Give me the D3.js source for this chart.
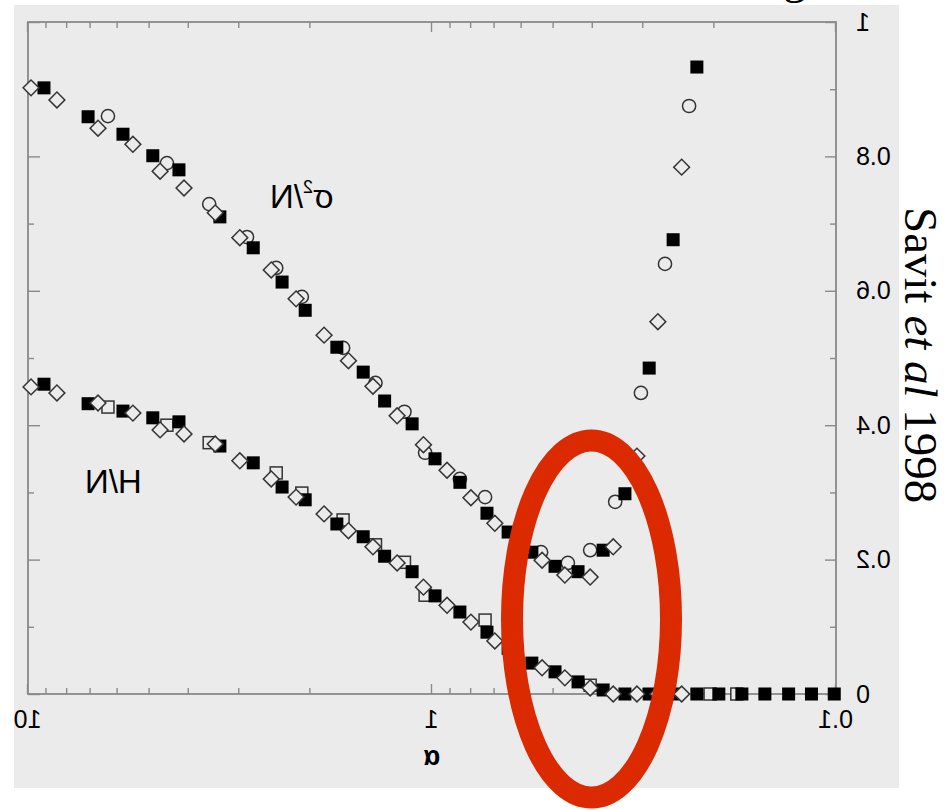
<!DOCTYPE html>
<html>
<head>
<meta charset="utf-8">
<script src="https://cdn.jsdelivr.net/npm/d3@7/dist/d3.min.js"></script>
<style>
  body { margin: 0; background: #fff; }
  svg { display: block; }
</style>
</head>
<body>
<svg id="chart"></svg>
<script>
// filled squares
var alphaSq = [9.13, 7.10, 5.82, 4.91, 4.23, 3.35, 2.77, 2.35, 2.06, 1.72, 1.48, 1.31, 1.12, 0.983, 0.853, 0.731,
    0.648, 0.566, 0.496, 0.435, 0.377, 0.333, 0.290, 0.253, 0.221, 0.195, 0.171, 0.150, 0.131, 0.115, 0.101];
var sigmaSq = [0.902, 0.859, 0.833, 0.801, 0.780, 0.710, 0.664, 0.613, 0.571, 0.516, 0.479, 0.436, 0.402, 0.350, 0.315, 0.269,
    0.241, 0.211, 0.190, 0.182, 0.214, 0.298, 0.485, 0.676, 0.933, null, null, null, null, null, null];
var hSq = [0.461, 0.432, 0.421, 0.411, 0.405, 0.369, 0.344, 0.308, 0.289, 0.253, 0.234, 0.205, 0.182, 0.146, 0.122, 0.092,
    0.068, 0.046, 0.033, 0.018, 0.006, 0, 0, 0, 0, 0, 0, 0, 0, 0, 0];

// open circles (sigma) / open squares (H)
var alphaCirc = [6.34, 4.53, 3.56, 2.87, 2.43, 2.10, 1.66, 1.38, 1.17, 1.04, 0.853, 0.739, 0.537, 0.461, 0.406,
    0.352, 0.304, 0.265, 0.231, 0.205, 0.176];
var sigmaCirc = [0.860, 0.790, 0.729, 0.680, 0.634, 0.591, 0.515, 0.463, 0.420, 0.359, 0.320, 0.293, 0.211, 0.195, 0.214,
    0.286, 0.448, 0.640, 0.875, null, null];
var hCirc = [0.427, 0.400, 0.374, null, 0.329, 0.299, 0.259, 0.222, 0.196, 0.147, null, 0.110, null, null, 0.013,
    null, null, null, null, 0, 0];

// open diamonds
var alphaDia = [9.83, 8.48, 6.71, 5.50, 4.71, 4.11, 3.44, 2.99, 2.50, 2.17, 1.85, 1.61, 1.40, 1.22, 1.05, 0.918,
    0.801, 0.699, 0.534, 0.469, 0.406, 0.356, 0.311, 0.276, 0.241];
var sigmaDia = [0.902, 0.884, 0.842, 0.818, 0.778, 0.753, 0.716, 0.679, 0.631, 0.588, 0.534, 0.496, 0.458, 0.414, 0.371, 0.333,
    0.292, 0.254, 0.199, 0.177, 0.174, 0.219, 0.354, 0.554, 0.784];
var hDia = [0.457, 0.448, 0.433, 0.418, 0.393, 0.387, 0.372, 0.347, 0.320, 0.293, 0.268, 0.243, 0.219, 0.195, 0.159, 0.132,
    0.107, 0.079, 0.039, 0.024, 0.009, 0, 0, 0, 0];

var xMajor = [0.1, 1, 10];
var xTickLabels = ["0.1", "1", "10"];
var xMinor = [0.2, 0.3, 0.4, 0.5, 0.6, 0.7, 0.8, 0.9, 2, 3, 4, 5, 6, 7, 8, 9];
var yMajor = [0, 0.2, 0.4, 0.6, 0.8, 1];
var yTickLabels = ["0", "0.2", "0.4", "0.6", "0.8", "1"];
var yMinor = [0.1, 0.3, 0.5, 0.7, 0.9];

var width = 950, height = 810;
var bg = "#ebebeb", axisCol = "#8a8a8a", markCol = "#333";
var sans = "'Liberation Sans', Arial, sans-serif";
var serif = "'Liberation Serif', 'Times New Roman', serif";

var svg = d3.select("#chart")
    .attr("width", width)
    .attr("height", height);

svg.append("rect")
    .attr("x", 14).attr("y", 5)
    .attr("width", 885).attr("height", 783)
    .attr("fill", bg);

// the whole figure is shown flipped left-right
var plot = svg.append("g").attr("transform", "translate(864,0) scale(-1,1)");

var x = d3.scaleLog().domain([0.1, 10]).range([28, 836]);
var y = d3.scaleLinear().domain([0, 1]).range([694, 22]);

function styleAxis(g) {
    g.select(".domain").remove();
    g.selectAll(".tick line").attr("stroke", axisCol).attr("stroke-width", 1.4);
    g.selectAll("text")
        .attr("font-family", sans)
        .attr("font-size", 25)
        .attr("fill", "#000");
}

// left (shown on the right after flip)
plot.append("g").attr("transform", "translate(28,0)")
    .call(d3.axisLeft(y).tickValues(yMajor).tickFormat(function (d, i) { return yTickLabels[i]; })
        .tickSizeInner(-11).tickSizeOuter(0).tickPadding(20))
    .call(styleAxis);
plot.append("g").attr("transform", "translate(28,0)")
    .call(d3.axisLeft(y).tickValues(yMinor).tickFormat("").tickSize(-6))
    .call(styleAxis);
// right (shown on the left)
plot.append("g").attr("transform", "translate(836,0)")
    .call(d3.axisRight(y).tickValues(yMajor).tickFormat("").tickSize(-12))
    .call(styleAxis);
plot.append("g").attr("transform", "translate(836,0)")
    .call(d3.axisRight(y).tickValues(yMinor).tickFormat("").tickSize(-6))
    .call(styleAxis);
// bottom
plot.append("g").attr("transform", "translate(0,694)")
    .call(d3.axisBottom(x).tickValues(xMajor).tickFormat(function (d, i) { return xTickLabels[i]; })
        .tickSizeInner(-10).tickSizeOuter(0).tickPadding(16))
    .call(styleAxis);
plot.append("g").attr("transform", "translate(0,694)")
    .call(d3.axisBottom(x).tickValues(xMinor).tickFormat("").tickSize(-6))
    .call(styleAxis);
// top
plot.append("g").attr("transform", "translate(0,22)")
    .call(d3.axisTop(x).tickValues(xMajor).tickFormat("").tickSize(-10))
    .call(styleAxis);
plot.append("g").attr("transform", "translate(0,22)")
    .call(d3.axisTop(x).tickValues(xMinor).tickFormat("").tickSize(-6))
    .call(styleAxis);

plot.append("rect")
    .attr("x", 28).attr("y", 22)
    .attr("width", 808).attr("height", 672)
    .attr("fill", "none")
    .attr("stroke", axisCol)
    .attr("stroke-width", 1.8);

function pts(alpha, vals) {
    return alpha.map(function (a, i) { return { a: a, v: vals[i] }; })
        .filter(function (d) { return d.v !== null; });
}

var marks = plot.append("g");

// open circles and open squares go underneath
marks.selectAll(".circ").data(pts(alphaCirc, sigmaCirc)).enter().append("circle")
    .attr("class", "circ")
    .attr("cx", function (d) { return x(d.a); })
    .attr("cy", function (d) { return y(d.v); })
    .attr("r", 6.6)
    .attr("fill", bg).attr("stroke", markCol).attr("stroke-width", 1.5);

marks.selectAll(".osq").data(pts(alphaCirc, hCirc)).enter().append("rect")
    .attr("class", "osq")
    .attr("x", function (d) { return x(d.a) - 6; })
    .attr("y", function (d) { return y(d.v) - 6; })
    .attr("width", 12).attr("height", 12)
    .attr("fill", bg).attr("stroke", markCol).attr("stroke-width", 1.5);

var filled = pts(alphaSq, sigmaSq).concat(pts(alphaSq, hSq));
marks.selectAll(".fsq").data(filled).enter().append("rect")
    .attr("class", "fsq")
    .attr("x", function (d) { return x(d.a) - 6.5; })
    .attr("y", function (d) { return y(d.v) - 6.5; })
    .attr("width", 13).attr("height", 13)
    .attr("fill", "#000");

var diamond = d3.symbol().type(d3.symbolSquare).size(125);
var dia = pts(alphaDia, sigmaDia).concat(pts(alphaDia, hDia));
marks.selectAll(".dia").data(dia).enter().append("path")
    .attr("class", "dia")
    .attr("d", diamond)
    .attr("transform", function (d) { return "translate(" + x(d.a) + "," + y(d.v) + ") rotate(45)"; })
    .attr("fill", bg).attr("stroke", markCol).attr("stroke-width", 1.5);

// curve labels and axis title (flipped with the plot)
var lab1 = plot.append("text")
    .attr("x", 594).attr("y", 208)
    .attr("text-anchor", "end")
    .attr("font-family", sans)
    .attr("font-size", 33)
    .attr("fill", "#000");
lab1.append("tspan").text("σ");
lab1.append("tspan").attr("font-size", 18).attr("dy", -15).text("2");
lab1.append("tspan").attr("dy", 15).text("/N");

plot.append("text")
    .attr("x", 779).attr("y", 493)
    .attr("text-anchor", "end")
    .attr("font-family", sans)
    .attr("font-size", 33)
    .attr("fill", "#000")
    .text("H/N");

plot.append("text")
    .attr("x", 432).attr("y", 765)
    .attr("text-anchor", "middle")
    .attr("font-family", sans)
    .attr("font-size", 27)
    .attr("font-weight", "bold")
    .attr("fill", "#000")
    .text("α");

// overlays that are not flipped
svg.append("ellipse")
    .attr("cx", 591.5).attr("cy", 619)
    .attr("rx", 79.5).attr("ry", 178.5)
    .attr("fill", "none")
    .attr("stroke", "#db2a00")
    .attr("stroke-width", 22);

var cite = svg.append("text")
    .attr("transform", "translate(905,207) rotate(90)")
    .attr("font-family", serif)
    .attr("font-size", 47)
    .attr("fill", "#000");
cite.append("tspan").text("Savit ");
cite.append("tspan").attr("font-style", "italic").text("et al");
cite.append("tspan").text(" 1998");

// bottom of a title glyph that is cut off at the top edge
svg.append("text")
    .attr("x", 783).attr("y", -7)
    .attr("font-family", serif)
    .attr("font-size", 47)
    .attr("fill", "#000")
    .text("g");
</script>
</body>
</html>
